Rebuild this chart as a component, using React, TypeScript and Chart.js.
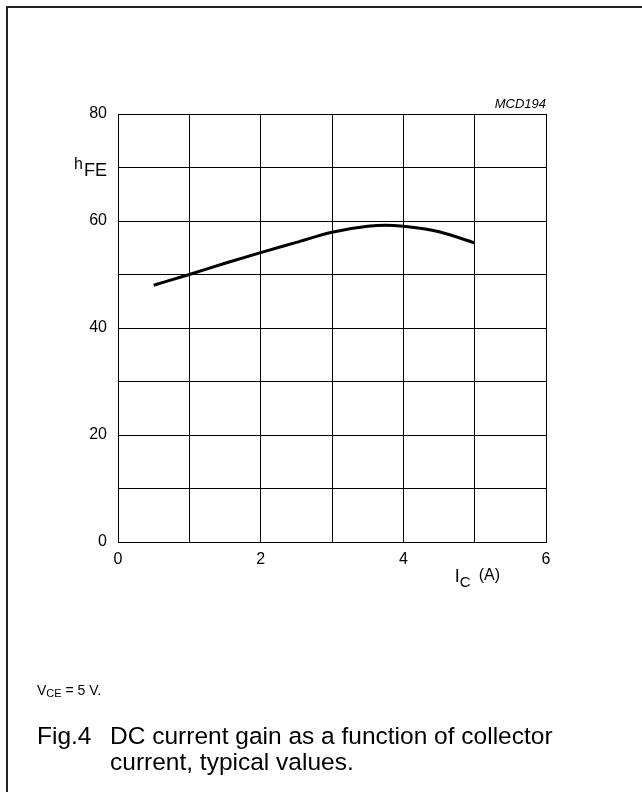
import React, { useEffect, useRef } from "react";
import { Chart, registerables } from "chart.js";

Chart.register(...registerables);

const currentA: number[] = [0.5, 1, 1.5, 2, 2.5, 3, 3.5, 3.75, 4, 4.5, 5];
const gainHFE: number[] = [48, 50, 52.1, 54.1, 56, 57.9, 59, 59.2, 59, 58, 55.9];
const xTickLabels: number[] = [0, 2, 4, 6];
const yTickLabels: number[] = [0, 20, 40, 60, 80];

const FONT = "'Liberation Sans', Arial, Helvetica, sans-serif";

const labelsPlugin = {
  id: "extraLabels",
  afterDraw(chart: any) {
    const ctx = chart.ctx as CanvasRenderingContext2D;
    const { left, right, top, bottom } = chart.chartArea;
    const y = chart.scales.y;
    const x = chart.scales.x;
    ctx.save();
    ctx.fillStyle = "#000";
    ctx.textBaseline = "alphabetic";
    // hFE label near y = 70
    const yh = y.getPixelForValue(70);
    ctx.textAlign = "right";
    ctx.font = `18px ${FONT}`;
    const feW = ctx.measureText("FE").width;
    ctx.fillText("FE", left - 11, yh + 8);
    ctx.font = `16px ${FONT}`;
    ctx.fillText("h", left - 11 - feW - 1, yh + 1);
    // I_C (A)
    const xi = x.getPixelForValue(5);
    ctx.textAlign = "left";
    ctx.font = `18px ${FONT}`;
    const base = bottom + 40;
    ctx.fillText("I", xi - 20, base);
    ctx.font = `15px ${FONT}`;
    ctx.fillText("C", xi - 15, base + 5);
    ctx.font = `16px ${FONT}`;
    ctx.fillText("(A)", xi + 4, base - 2);
    // MCD194
    ctx.textAlign = "right";
    ctx.font = `italic 13px ${FONT}`;
    ctx.fillText("MCD194", right, top - 6);
    ctx.restore();
  },
};

export default function App() {
  const ref = useRef<HTMLCanvasElement | null>(null);
  useEffect(() => {
    if (!ref.current) return;
    const chart = new Chart(ref.current, {
      type: "line",
      data: {
        datasets: [
          {
            data: currentA.map((c, i) => ({ x: c, y: gainHFE[i] })),
            borderColor: "#000",
            borderWidth: 3,
            pointRadius: 0,
            fill: false,
            cubicInterpolationMode: "monotone",
          },
        ],
      },
      options: {
        animation: false,
        responsive: false,
        devicePixelRatio: 1,
        layout: { padding: { top: 114, right: 96, left: 0, bottom: 0 } },
        plugins: { legend: { display: false }, tooltip: { enabled: false } },
        scales: {
          x: {
            type: "linear",
            min: 0,
            max: 6,
            afterFit: (s: any) => {
              s.height = 250;
            },
            ticks: {
              stepSize: 1,
              padding: 8,
              color: "#000",
              font: { family: FONT, size: 16 },
              maxRotation: 0,
              autoSkip: false,
              callback: (v: any) => (xTickLabels.includes(Number(v)) ? String(v) : ""),
            },
            grid: { color: "#000", lineWidth: 1, drawTicks: false },
            border: { color: "#000", width: 1 },
          },
          y: {
            type: "linear",
            min: 0,
            max: 80,
            afterFit: (s: any) => {
              s.width = 118;
            },
            ticks: {
              stepSize: 10,
              padding: 11,
              color: "#000",
              font: { family: FONT, size: 16 },
              autoSkip: false,
              callback: (v: any) => (yTickLabels.includes(Number(v)) ? String(v) : ""),
            },
            grid: { color: "#000", lineWidth: 1, drawTicks: false },
            border: { color: "#000", width: 1 },
          },
        },
      },
      plugins: [labelsPlugin],
    });
    return () => chart.destroy();
  }, []);

  return (
    <div
      style={{
        position: "fixed",
        left: 0,
        top: 0,
        width: 642,
        height: 792,
        background: "#fff",
        fontFamily: FONT,
        color: "#000",
      }}
    >
      <div
        style={{
          position: "absolute",
          left: 6,
          top: 6,
          width: 640,
          height: 790,
          borderLeft: "2px solid #222",
          borderTop: "2px solid #222",
        }}
      />
      <canvas ref={ref} width={642} height={792} style={{ position: "absolute", left: 0, top: 0 }} />
      <div style={{ position: "absolute", left: 37, top: 682, fontSize: 14, lineHeight: "16px", whiteSpace: "nowrap" }}>
        V<span style={{ fontSize: 11, verticalAlign: "-2px" }}>CE</span> = 5 V.
      </div>
      <div style={{ position: "absolute", left: 37, top: 723, fontSize: 24.5, lineHeight: "26px", whiteSpace: "nowrap" }}>
        Fig.4
      </div>
      <div style={{ position: "absolute", left: 110, top: 723, fontSize: 24.5, lineHeight: "26px", whiteSpace: "nowrap" }}>
        DC current gain as a function of collector
        <br />
        current, typical values.
      </div>
    </div>
  );
}
